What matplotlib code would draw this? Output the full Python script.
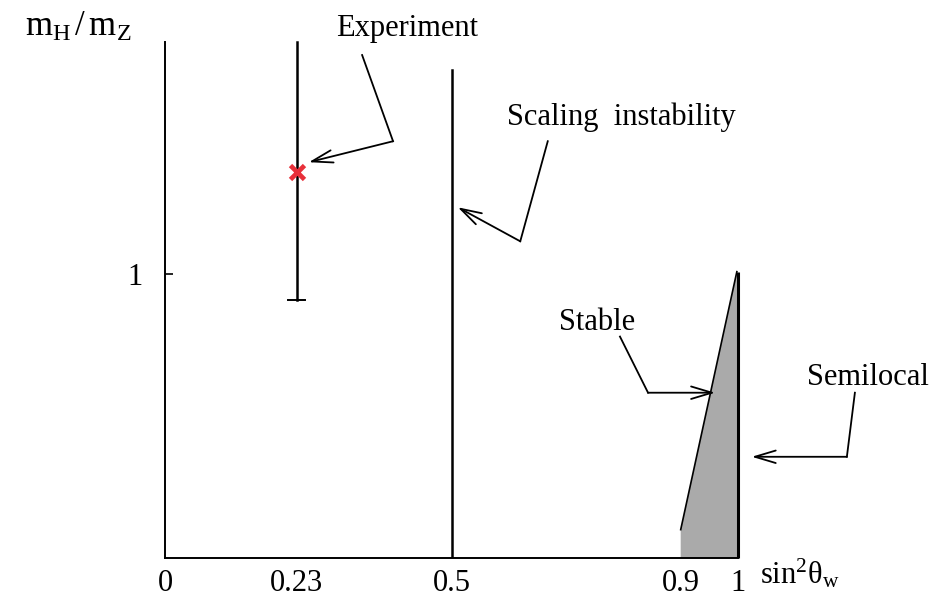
import matplotlib
matplotlib.use("Agg")
import matplotlib.pyplot as plt
from matplotlib.patches import Polygon

plt.rcParams["font.family"] = ["Liberation Serif", "DejaVu Serif"]
plt.rcParams["mathtext.fontset"] = "custom"
plt.rcParams["mathtext.rm"] = "Liberation Serif"
plt.rcParams["mathtext.it"] = "Liberation Serif:italic"

# ── data ──────────────────────────────────────────────────────────────────────
X_TICKS = [0, 0.23, 0.5, 0.9, 1]
X_TICK_LABELS = ["0", "0.23", "0.5", "0.9", "1"]
Y_TICKS = [1]
Y_TICK_LABELS = ["1"]
Y_MAX = 1.82

EXP_X = 0.23
EXP_Y = 1.36          # experimental point
EXP_RANGE = (0.91, 1.82)
SCALING_X = 0.5
SCALING_TOP = 1.72
# stable region (shaded): x and boundary y
STABLE_X = [0.9, 0.9, 0.998, 1.0]
STABLE_Y = [0.0, 0.10, 1.01, 0.0]
SEMILOCAL_X = 1.0
SEMILOCAL_TOP = 1.01

# annotation polylines: text position, start, corner, arrow tip
LABELS = ["Experiment", "Scaling  instability", "Stable", "Semilocal"]
TEXT_POS = [(0.422, 1.866), (0.796, 1.555), (0.754, 0.830), (1.227, 0.636)]
LINE_START = [(0.344, 1.774), (0.668, 1.470), (0.794, 0.781), (1.204, 0.583)]
LINE_CORNER = [(0.398, 1.470), (0.620, 1.117), (0.843, 0.583), (1.190, 0.357)]
ARROW_TIP = [(0.251, 1.396), (0.511, 1.237), (0.960, 0.583), (1.024, 0.357)]

# ── figure ────────────────────────────────────────────────────────────────────
W, H = 944, 601
fig = plt.figure(figsize=(W / 100, H / 100), dpi=100)
ax = fig.add_axes([165 / W, (H - 558) / H, 573 / W, (558 - 42) / H])
ax.set_xlim(0, 1)
ax.set_ylim(0, Y_MAX)
for s in ("top", "right"):
    ax.spines[s].set_visible(False)
for s in ("left", "bottom"):
    ax.spines[s].set_linewidth(1.4)

ax.set_xticks(X_TICKS)
ax.set_xticklabels(X_TICK_LABELS, fontsize=22)
ax.set_xticks([EXP_X], minor=True)
ax.tick_params(axis="x", which="major", length=0, pad=8)
ax.tick_params(axis="x", which="minor", direction="in", length=5, width=1.2)
ax.set_yticks(Y_TICKS)
ax.set_yticklabels(Y_TICK_LABELS, fontsize=22)
ax.tick_params(axis="y", direction="in", length=6, width=1.2, pad=16)

# stable region
ax.add_patch(Polygon(list(zip(STABLE_X, STABLE_Y)), closed=True,
                     facecolor="#aaaaaa", edgecolor="none", clip_on=False))
ax.plot(STABLE_X[1:3], STABLE_Y[1:3], color="black", lw=1.2, clip_on=False)
# semilocal line
ax.plot([SEMILOCAL_X, SEMILOCAL_X], [0, SEMILOCAL_TOP], color="black", lw=2.2,
        clip_on=False, solid_capstyle="butt")
# scaling instability line
ax.plot([SCALING_X, SCALING_X], [0, SCALING_TOP], color="black", lw=1.8)
# experiment range with lower cap
ax.plot([EXP_X, EXP_X], EXP_RANGE, color="black", lw=1.8, clip_on=False)
ax.plot([EXP_X - 0.015, EXP_X + 0.015], [EXP_RANGE[0]] * 2, color="black", lw=1.4)
ax.plot([EXP_X], [EXP_Y], marker="x", color="#e8303a", ms=10, mew=3.4,
        zorder=5, clip_on=False)

# annotations
for lab, tp, st, co, tip in zip(LABELS, TEXT_POS, LINE_START, LINE_CORNER, ARROW_TIP):
    ax.text(*tp, lab, fontsize=22, ha="center", va="center", clip_on=False)
    ax.plot([st[0], co[0]], [st[1], co[1]], color="black", lw=1.3, clip_on=False)
    ax.annotate("", xy=tip, xytext=co, annotation_clip=False,
                arrowprops=dict(arrowstyle="->,head_length=1.5,head_width=0.45",
                                color="black", lw=1.3, shrinkA=0, shrinkB=0))

# axis labels
fig.text(760 / W, 1 - 574 / H,
         r"$\mathrm{sin}^{2}\mathrm{\theta}_{\mathrm{w}}$", fontsize=22,
         ha="left", va="center")
fig.text(78 / W, 1 - 27 / H,
         r"$\mathrm{m}_{\mathrm{H}}\,/\,\mathrm{m}_{\mathrm{Z}}$",
         fontsize=25, ha="center", va="center")

fig.savefig("out.png", dpi=100)
